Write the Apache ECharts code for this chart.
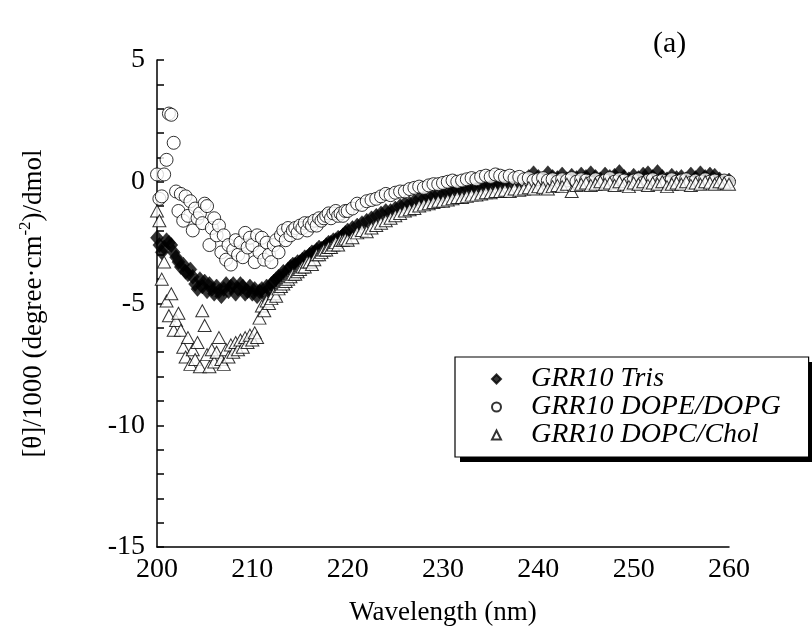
<!DOCTYPE html>
<html><head><meta charset="utf-8">
<script src="https://cdn.jsdelivr.net/npm/echarts@6/dist/echarts.min.js"></script>
<style>html,body{margin:0;padding:0;background:#fff}#c{width:812px;height:637px}</style>
</head><body><div id="c"></div>
<script>
const wavelength = [
200,200.25,200.5,200.75,201,201.25,201.5,201.75,202,202.25,202.5,202.75,203,203.25,203.5,203.75,204,204.25,204.5,204.75,
205,205.25,205.5,205.75,206,206.25,206.5,206.75,207,207.25,207.5,207.75,208,208.25,208.5,208.75,209,209.25,209.5,209.75,
210,210.25,210.5,210.75,211,211.25,211.5,211.75,212,212.25,212.5,212.75,213,213.25,213.5,213.75,214,214.25,214.5,214.75,
215,215.25,215.5,215.75,216,216.25,216.5,216.75,217,217.25,217.5,217.75,218,218.25,218.5,218.75,219,219.25,219.5,219.75,
220,220.5,221,221.5,222,222.5,223,223.5,224,224.5,
225,225.5,226,226.5,227,227.5,228,228.5,229,229.5,
230,230.5,231,231.5,232,232.5,233,233.5,234,234.5,
235,235.5,236,236.5,237,237.5,238,238.5,239,239.5,
240,240.5,241,241.5,242,242.5,243,243.5,244,244.5,
245,245.5,246,246.5,247,247.5,248,248.5,249,249.5,
250,250.5,251,251.5,252,252.5,253,253.5,254,254.5,
255,255.5,256,256.5,257,257.5,258,258.5,259,259.5,
260];
const trisValues = [
-2.3,-2.6,-2.9,-2.7,-2.4,-2.5,-2.6,-2.9,-3.1,-3.3,-3.5,-3.4,-3.7,-3.8,-3.6,-3.9,-4.2,-4.4,-4.0,-4.3,
-4.1,-4.5,-4.2,-4.4,-4.6,-4.3,-4.5,-4.7,-4.4,-4.2,-4.5,-4.3,-4.2,-4.6,-4.4,-4.2,-4.3,-4.6,-4.5,-4.3,
-4.6,-4.4,-4.7,-4.5,-4.4,-4.6,-4.3,-4.4,-4.2,-4.1,-4.0,-3.9,-3.9,-3.7,-3.8,-3.6,-3.5,-3.4,-3.4,-3.3,
-3.3,-3.2,-3.1,-3.1,-3.0,-2.9,-2.9,-2.8,-2.7,-2.75,-2.7,-2.6,-2.5,-2.5,-2.4,-2.4,-2.3,-2.3,-2.2,-2.1,
-2.0,-1.9,-1.8,-1.7,-1.6,-1.5,-1.4,-1.3,-1.2,-1.2,
-1.1,-1.0,-0.9,-0.9,-0.8,-0.7,-0.7,-0.6,-0.6,-0.5,
-0.5,-0.4,-0.4,-0.3,-0.35,-0.25,-0.2,-0.25,-0.15,-0.1,
-0.15,-0.05,-0.1,0.0,-0.05,0.05,0.0,0.1,0.2,0.35,
0.2,0.1,0.35,0.2,0.15,0.3,0.1,0.25,0.15,0.3,
0.2,0.35,0.2,0.1,0.3,0.2,0.25,0.4,0.2,0.1,
0.25,0.15,0.3,0.35,0.2,0.4,0.2,0.1,0.25,0.15,
0.2,0.1,0.3,0.15,0.35,0.2,0.3,0.25,0.1,0.0,
0.05];
const dopeValues = [
0.3,-0.7,-0.6,0.3,0.9,2.8,2.75,1.6,-0.4,-1.2,-0.5,-1.6,-0.6,-1.4,-0.8,-2.0,-1.1,-1.5,-1.3,-1.7,
-0.9,-1.0,-2.6,-1.9,-1.5,-2.2,-1.8,-2.9,-2.2,-3.2,-2.6,-3.4,-2.8,-2.4,-3.0,-2.5,-3.1,-2.1,-2.7,-2.3,
-2.6,-3.3,-2.2,-2.9,-2.3,-3.2,-2.5,-3.0,-3.3,-2.6,-2.4,-2.9,-2.2,-2.0,-2.4,-1.9,-2.2,-2.0,-1.9,-2.1,
-1.8,-1.9,-1.7,-2.0,-1.7,-1.8,-1.6,-1.8,-1.5,-1.6,-1.5,-1.4,-1.3,-1.5,-1.3,-1.2,-1.4,-1.3,-1.4,-1.2,
-1.2,-1.1,-0.9,-0.95,-0.8,-0.75,-0.7,-0.6,-0.5,-0.55,
-0.45,-0.4,-0.4,-0.3,-0.25,-0.2,-0.25,-0.15,-0.1,-0.1,
-0.05,0.0,0.05,0.0,0.05,0.1,0.15,0.1,0.2,0.25,
0.2,0.3,0.25,0.2,0.25,0.15,0.2,0.1,0.15,0.05,
0.1,0.15,0.05,0.1,0.0,0.1,0.05,0.15,0.0,0.1,
0.05,-0.05,0.1,0.0,0.05,0.15,0.0,0.1,0.05,-0.05,
0.05,0.1,-0.05,0.05,0.1,0.0,0.05,-0.05,0.1,0.0,
0.05,0.1,-0.05,0.05,0.0,0.1,0.0,0.05,-0.05,0.05,
0.0];
const dopcValues = [
-1.2,-1.6,-4.0,-3.3,-4.9,-5.5,-4.6,-6.1,-5.7,-5.4,-6.1,-6.8,-7.2,-6.4,-7.5,-6.9,-7.3,-6.6,-7.6,-5.3,
-5.9,-7.1,-7.6,-6.9,-7.4,-7.0,-6.4,-7.3,-7.5,-6.9,-7.2,-6.7,-7.0,-6.6,-6.9,-6.5,-6.8,-6.4,-6.6,-6.3,
-6.5,-6.2,-6.4,-5.6,-5.1,-5.3,-4.9,-5.0,-4.8,-4.6,-4.7,-4.4,-4.3,-4.2,-4.1,-4.0,-3.9,-3.8,-3.8,-3.7,
-3.6,-3.5,-3.5,-3.3,-3.3,-3.4,-3.2,-3.0,-3.0,-2.9,-2.8,-2.8,-2.7,-2.7,-2.6,-2.5,-2.6,-2.4,-2.4,-2.35,
-2.4,-2.3,-2.1,-2.0,-2.05,-1.9,-1.8,-1.7,-1.6,-1.5,
-1.4,-1.3,-1.2,-1.15,-1.1,-1.0,-0.95,-0.9,-0.85,-0.8,
-0.8,-0.75,-0.7,-0.65,-0.65,-0.6,-0.55,-0.55,-0.5,-0.45,
-0.45,-0.4,-0.4,-0.35,-0.4,-0.3,-0.35,-0.3,-0.25,-0.3,
-0.2,-0.25,-0.3,-0.2,-0.15,-0.2,-0.1,-0.4,-0.15,-0.1,
-0.05,-0.15,-0.1,0.0,-0.1,-0.05,-0.15,0.0,-0.1,-0.2,
-0.05,-0.1,0.0,-0.15,-0.05,-0.1,0.0,-0.2,-0.1,-0.05,
-0.1,0.0,-0.15,-0.05,-0.1,0.0,-0.05,-0.1,0.0,-0.05,
-0.1];
const seriesNames = ['GRR10 Tris', 'GRR10 DOPE/DOPG', 'GRR10 DOPC/Chol'];
const panelLabel = '(a)';
const xAxisTitle = 'Wavelength (nm)';
const yAxisTitle = '[θ]/1000 (degree·cm{sup|-2})/dmol';

const FONT = "'Liberation Serif','Times New Roman',serif";
function pairs(vals) { return wavelength.map((w, i) => [w, vals[i]]); }
const axisLineStyle = { color: '#000', width: 1.5 };

const chart = echarts.init(document.getElementById('c'), null, { renderer: 'canvas' });
chart.setOption({
  animation: false,
  backgroundColor: '#fff',
  title: { text: panelLabel, left: 648, top: 24, textStyle: { fontFamily: FONT, fontSize: 30, fontWeight: 'normal', color: '#000' } },
  grid: { left: 157, right: 83, top: 60, bottom: 90 },
  graphic: [
    { type: 'rect', z: 1, zlevel: 0, left: 460, top: 362, shape: { width: 360, height: 100 }, style: { fill: '#000' } }
  ],
  xAxis: {
    type: 'value', min: 200, max: 260, interval: 10,
    axisLine: { show: true, onZero: false, lineStyle: axisLineStyle },
    axisTick: { show: false }, splitLine: { show: false },
    axisLabel: { color: '#000', fontFamily: FONT, fontSize: 28, margin: 9 },
    name: xAxisTitle, nameLocation: 'middle', nameGap: 52,
    nameTextStyle: { color: '#000', fontFamily: FONT, fontSize: 27 }
  },
  yAxis: {
    type: 'value', min: -15, max: 5, interval: 5,
    axisLine: { show: true, onZero: false, lineStyle: axisLineStyle },
    axisTick: { show: true, inside: true, length: 7, lineStyle: axisLineStyle },
    minorTick: { show: true, splitNumber: 5, length: 7, lineStyle: axisLineStyle },
    splitLine: { show: false },
    axisLabel: { color: '#000', fontFamily: FONT, fontSize: 28, margin: 12 },
    name: yAxisTitle, nameLocation: 'middle', nameGap: 106,
    nameTextStyle: { color: '#000', fontFamily: FONT, fontSize: 27,
      rich: { sup: { fontFamily: FONT, fontSize: 17, color: '#000', verticalAlign: 'top', lineHeight: 34 } } }
  },
  legend: {
    z: 5,
    orient: 'vertical', left: 455, top: 357, padding: [8, 28, 8, 36], itemGap: 0,
    itemWidth: 9, itemHeight: 9,
    backgroundColor: '#fff', borderColor: '#000', borderWidth: 1.2,
    textStyle: { fontFamily: FONT, fontStyle: 'italic', fontSize: 28, lineHeight: 27, color: '#000', padding: [0, 0, 0, 25] },
    data: seriesNames
  },
  series: [
    { name: seriesNames[0], type: 'scatter', symbol: 'diamond', symbolSize: [13, 15],
      itemStyle: { color: '#000', borderColor: '#000', borderWidth: 0.5 }, data: pairs(trisValues) },
    { name: seriesNames[1], type: 'scatter', symbol: 'circle', symbolSize: 13,
      itemStyle: { color: '#fff', borderColor: '#000', borderWidth: 1 }, data: pairs(dopeValues) },
    { name: seriesNames[2], type: 'scatter', symbol: 'triangle', symbolSize: [13, 12],
      itemStyle: { color: '#fff', borderColor: '#000', borderWidth: 1 }, data: pairs(dopcValues) }
  ]
});
</script></body></html>
